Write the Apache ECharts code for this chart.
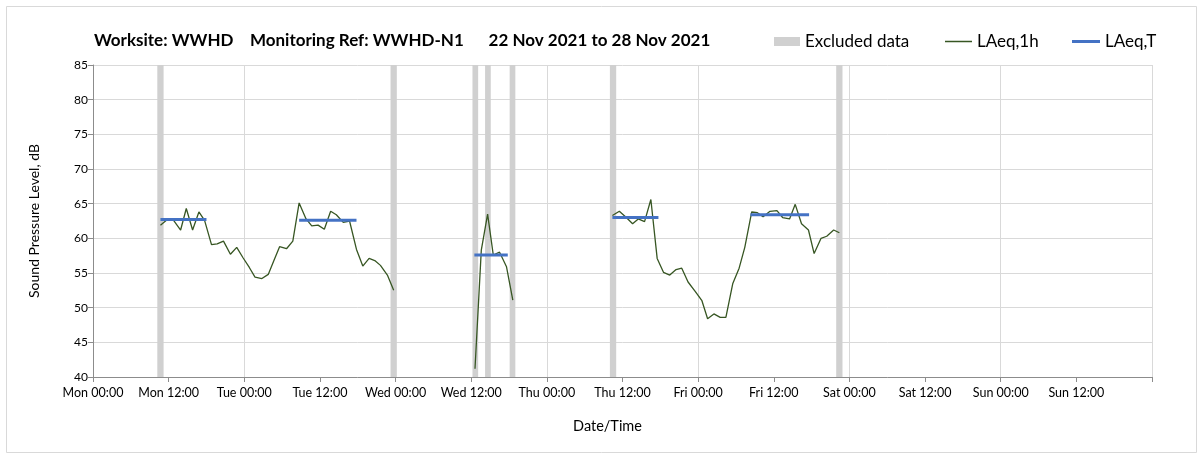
<!DOCTYPE html>
<html><head><meta charset="utf-8">
<script src="https://cdn.jsdelivr.net/npm/echarts@6/dist/echarts.min.js"></script>
<style>html,body{margin:0;padding:0;background:#fff}#c{width:1203px;height:459px}</style>
</head><body><div id="c"></div>
<script>
// x axis: hours since Mon 00:00
const xTickLabels = ['Mon 00:00','Mon 12:00','Tue 00:00','Tue 12:00','Wed 00:00','Wed 12:00','Thu 00:00','Thu 12:00','Fri 00:00','Fri 12:00','Sat 00:00','Sat 12:00','Sun 00:00','Sun 12:00',''];

// LAeq,1h segments
const monTueHours = [10.7,11.65,12.7,13.9,14.8,15.8,16.8,17.7,18.8,19.7,20.7,21.8,22.8,23.8,24.8,25.7,26.8,27.8,28.7,29.6,30.7,31.7,32.7,33.8,34.7,35.7,36.7,37.7,38.6,39.7,40.7,41.8,42.8,43.8,44.7,45.6,46.7,47.7];
const monTueLevels = [61.9,62.6,62.7,61.2,64.3,61.2,63.8,62.6,59.1,59.2,59.6,57.7,58.7,57.2,55.8,54.4,54.2,54.8,56.8,58.8,58.5,59.6,65.1,62.8,61.8,61.9,61.3,63.9,63.4,62.3,62.5,58.4,56.0,57.1,56.8,56.1,54.7,52.5];
const wedHours = [60.6,61.6,62.6,63.5,64.5,65.6,66.6];
const wedLevels = [41.2,58.3,63.5,57.6,58.0,55.9,51.1];
const thuFriHours = [82.4,83.5,84.6,85.6,86.5,87.5,88.5,89.5,90.5,91.5,92.5,93.4,94.4,95.5,96.6,97.5,98.5,99.5,100.4,101.5,102.5,103.4,104.5,105.4,106.3,107.4,108.5,109.4,110.5,111.4,112.4,113.5,114.4,115.5,116.4,117.5,118.4];
const thuFriLevels = [63.3,63.9,63.0,62.1,62.8,62.4,65.6,57.1,55.1,54.7,55.5,55.7,53.7,52.4,51.0,48.4,49.1,48.6,48.6,53.5,55.7,58.7,63.8,63.7,63.1,63.9,64.0,63.0,62.8,64.9,62.1,61.2,57.8,60.0,60.3,61.2,60.8];

// LAeq,T periods
const laeqTStart = [10.7,32.7,60.5,82.4,104.3];
const laeqTEnd = [18.0,41.8,65.8,89.7,113.6];
const laeqTLevels = [62.7,62.6,57.6,63.0,63.4];

// Excluded data periods
const excludedStart = [10.2,47.2,60.2,62.2,66.1,82.0,117.9];
const excludedEnd = [11.2,48.2,61.1,63.1,67.0,83.0,118.9];

const FONT = 'Lato';
const green = '#375623', blue = '#4472c4', grey = '#d0d0d0';

function pairs(h, v){ return h.map((x,i)=>[x, v[i]]); }

const series = [];
series.push({
  name: 'Excluded data', type: 'line', data: [], z: 1,
  itemStyle: {color: grey},
  markArea: {silent: true, itemStyle: {color: grey},
    data: excludedStart.map((s,i)=>[{xAxis: s},{xAxis: excludedEnd[i]}])}
});
[[monTueHours,monTueLevels],[wedHours,wedLevels],[thuFriHours,thuFriLevels]].forEach(([h,v])=>{
  series.push({name:'LAeq,1h', type:'line', data: pairs(h,v), symbol:'none', z: 3,
    itemStyle:{color:green}, lineStyle:{color:green, width:1.3}});
});
laeqTStart.forEach((s,i)=>{
  series.push({name:'LAeq,T', type:'line', data:[[s,laeqTLevels[i]],[laeqTEnd[i],laeqTLevels[i]]], symbol:'none', z: 4,
    itemStyle:{color:blue}, lineStyle:{color:blue, width:3}});
});

const legendText = {fontFamily: FONT, fontSize: 17, color: '#000'};
const option = {
  animation: false,
  backgroundColor: '#fff',
  title: {text: 'Worksite: WWHD    Monitoring Ref: WWHD-N1      22 Nov 2021 to 28 Nov 2021',
    left: 94, top: 32, padding: 0, textStyle: {fontFamily: FONT, fontWeight: 'bold', fontSize: 17, color: '#000'}},
  legend: [
    {data:[{name:'Excluded data', icon:'rect'}], left: 774, top: 33, padding: 0, itemWidth: 26, itemHeight: 9, itemGap: 2, textStyle: legendText},
    {data:[{name:'LAeq,1h', icon:'rect'}], left: 945, top: 33, padding: 0, itemWidth: 27, itemHeight: 1.5, itemGap: 2, textStyle: legendText},
    {data:[{name:'LAeq,T', icon:'rect'}], left: 1072, top: 33, padding: 0, itemWidth: 28, itemHeight: 3, itemGap: 2, textStyle: legendText}
  ],
  grid: {left: 93, right: 51, top: 65, bottom: 82, containLabel: false},
  xAxis: [{
    type: 'value', min: 0, max: 168, interval: 12,
    name: 'Date/Time', nameLocation: 'middle', nameGap: 42,
    nameTextStyle: {fontFamily: FONT, fontSize: 14.5, color: '#000', padding: [0, 30, 0, 0]},
    axisLine: {lineStyle: {color: '#8c8c8c'}},
    axisTick: {show: true, length: 5, lineStyle: {color: '#8c8c8c'}},
    axisLabel: {fontFamily: FONT, fontSize: 12.5, color: '#000', margin: 9,
      formatter: v => xTickLabels[Math.round(v/12)]},
    splitLine: {show: false}
  },{
    type: 'value', min: 0, max: 168, interval: 24,
    axisLine: {show: false}, axisTick: {show: false}, axisLabel: {show: false},
    splitLine: {show: true, lineStyle: {color: '#d9d9d9', width: 1}}
  }],
  yAxis: {
    type: 'value', min: 40, max: 85, interval: 5,
    name: 'Sound Pressure Level, dB', nameLocation: 'middle', nameGap: 52,
    nameTextStyle: {fontFamily: FONT, fontSize: 14, color: '#000'},
    axisLine: {show: true, lineStyle: {color: '#8c8c8c'}},
    axisTick: {show: true, length: 5, lineStyle: {color: '#8c8c8c'}},
    axisLabel: {fontFamily: FONT, fontSize: 12, color: '#000', margin: 5},
    splitLine: {show: true, lineStyle: {color: '#d9d9d9', width: 1}}
  },
  graphic: [{type: 'rect', shape: {x: 6.5, y: 6.5, width: 1190, height: 446}, style: {fill: 'none', stroke: '#d9d9d9', lineWidth: 1}, silent: true, z: -1}],
  series: series
};
const chart = echarts.init(document.getElementById('c'), null, {renderer: 'canvas'});
chart.setOption(option);
</script></body></html>
